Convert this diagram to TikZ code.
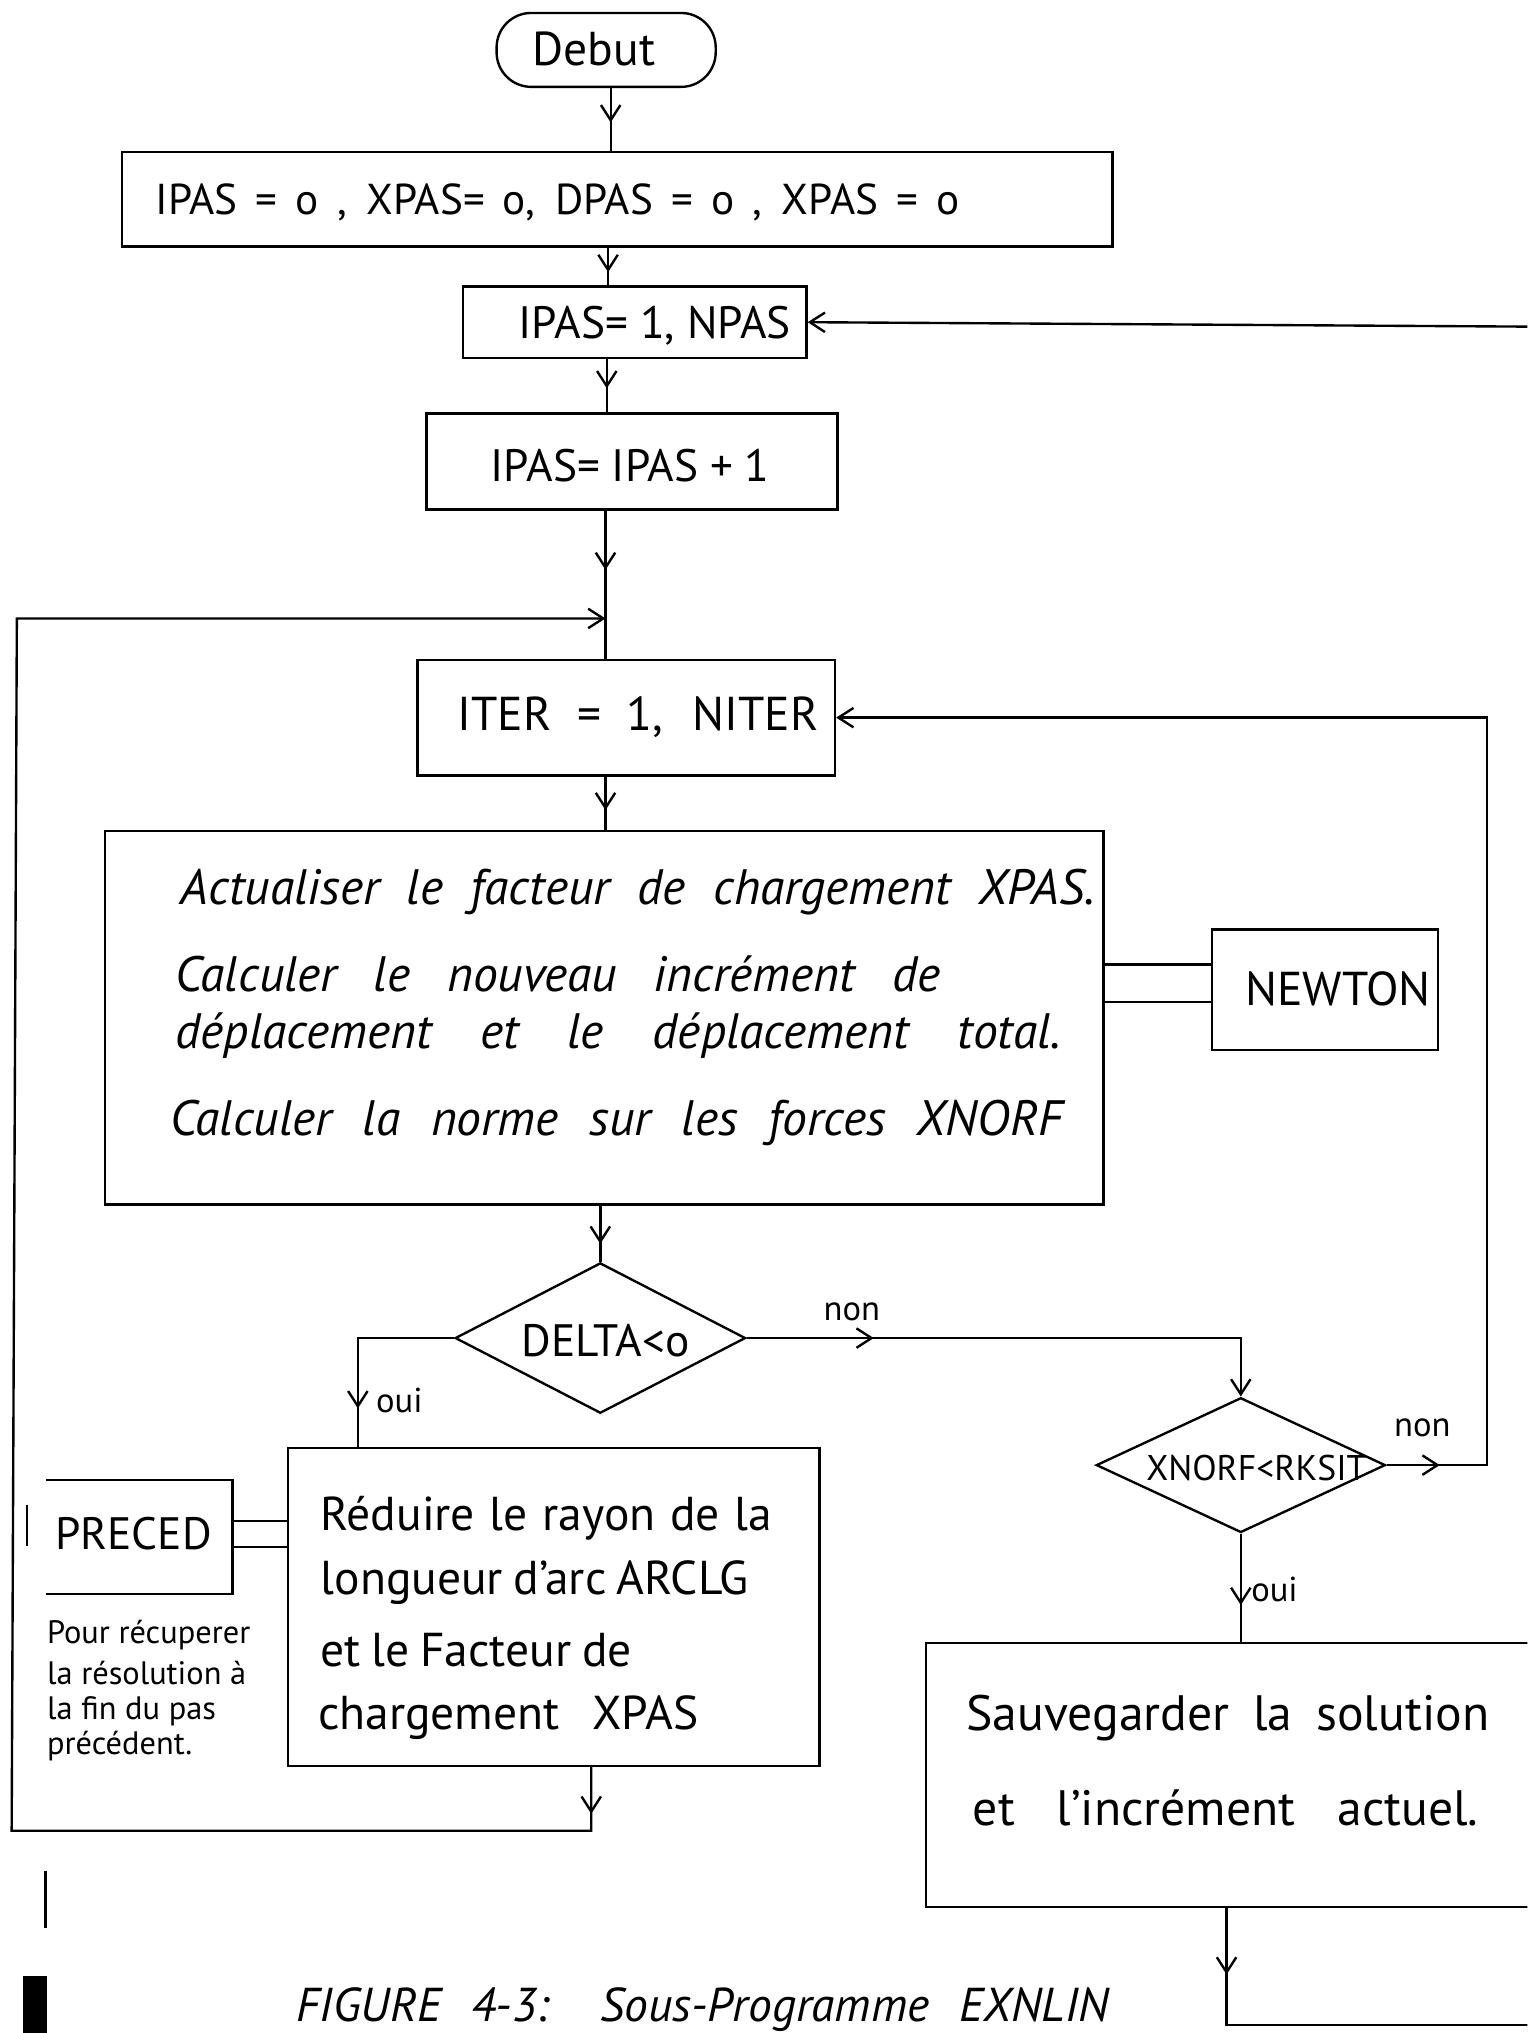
\documentclass[tikz,border=0pt]{standalone}
\usepackage{fontspec}
\setmainfont{PT Sans}
\usetikzlibrary{arrows.meta,shapes.geometric,decorations.markings,fit}

\tikzset{
  frame/.style={draw, inner sep=0pt, line width=1.1pt},
  txt/.style={inner sep=0pt, anchor=center},
  ltxt/.style={inner sep=0pt, anchor=west},
  flow/.style={draw, line width=1.1pt},
  tipend/.style={-{Straight Barb[length=7pt,width=9pt]}},
  vmark/.style={postaction={decorate, decoration={markings,
      mark=at position #1 with {\arrow{Straight Barb[length=7pt,width=9pt]}}}}},
  reg/.style={font=\fontsize{#1}{#1}\selectfont},
  ital/.style={font=\itshape\fontsize{#1}{#1}\selectfont},
}

\begin{document}
\begin{tikzpicture}[x=0.6pt,y=-0.6pt]
\fill[white] (0,0) rectangle (1178,1568);
\useasboundingbox (0,0) rectangle (1178,1568);
\clip (0,0) rectangle (1178,1568);

% column and corner coordinates
\coordinate (c1) at (471,0);
\coordinate (c2) at (469,0);
\coordinate (c3) at (468,0);
\coordinate (c4) at (467,0);
\coordinate (c6) at (946,0);
\coordinate (r1) at (456,0);
\coordinate (r2) at (276,0);
\coordinate (rc) at (1147,0);
\coordinate (join) at (467,477);
\coordinate (loopbot) at (9,1412);
\coordinate (looptop) at (13,477);
\coordinate (topright) at (1190,252);
\coordinate (botright) at (1190,1562);
\coordinate (dl1) at (0,744);
\coordinate (dl2) at (0,773);
\coordinate (dl3) at (0,1173);
\coordinate (dl4) at (0,1193);

% start terminal
\node[frame, rounded corners=16pt, fit={(383,10)(552,67)}] (debut) {};
\node[txt, reg=22] (debutT) at (458,38) {Debut};

% initialisation
\node[frame, fit={(94,117)(858,190)}] (init) {};
\node[txt, reg=20] (initT) at (430,156)
  {\makebox[372pt][s]{IPAS = o , XPAS= o, DPAS = o , XPAS = o}};

% step loop
\node[frame, fit={(357,221)(622,276)}] (npas) {};
\node[txt, reg=21] (npasT) at (505,251) {IPAS= 1, NPAS};

\node[frame, fit={(329,319)(646,393)}] (incr) {};
\node[txt, reg=21] (incrT) at (486,359) {\makebox[129pt][s]{IPAS= IPAS + 1}};

% iteration loop
\node[frame, fit={(322,509)(644,598)}] (iter) {};
\node[txt, reg=22] (iterT) at (492,553) {\makebox[167pt][s]{ITER = 1, NITER}};

% computation block
\node[frame, fit={(81,641)(851,929)}] (calc) {};
\node[ltxt, ital=23] (calc1) at (139,688)
  {\makebox[423pt][s]{Actualiser le facteur de chargement XPAS.}};
\node[ltxt, ital=23] (calc2) at (135,751)
  {\makebox[354pt][s]{Calculer le nouveau incrément de}};
\node[ltxt, ital=23] (calc3) at (135,799)
  {\makebox[410pt][s]{déplacement et le déplacement total.}};
\node[ltxt, ital=23] (calc4) at (131,866)
  {\makebox[413pt][s]{Calculer la norme sur les forces XNORF}};

\node[frame, fit={(935,717)(1109,810)}] (newton) {};
\node[txt, reg=22] (newtonT) at (1032,763) {NEWTON};

% decisions
\node[frame, diamond, minimum width=134.4pt, minimum height=69.6pt] (delta) at (463,1032) {};
\node[txt, reg=21] (deltaT) at (467,1034) {DELTA<o};

\node[frame, diamond, minimum width=133.8pt, minimum height=62.4pt] (xnorf) at (957,1130) {};
\node[txt, reg=16.5] (xnorfT) at (969,1132) {XNORF<RKSIT};

% reduction block
\node[frame, fit={(222,1117)(632,1362)}] (reduce) {};
\node[ltxt, reg=22] (red1) at (247,1171) {\makebox[209pt][s]{Réduire le rayon de la}};
\node[ltxt, reg=22] (red2) at (247,1221) {\makebox[198pt][s]{longueur d'arc ARCLG}};
\node[ltxt, reg=22] (red3) at (247,1273) {\makebox[144pt][s]{et le Facteur de}};
\node[ltxt, reg=22] (red4) at (245,1325) {\makebox[176pt][s]{chargement XPAS}};

% previous-step routine
\node[inner sep=0pt, fit={(36,1142)(179,1229)}] (preced) {};
\draw[line width=1.1pt] (preced.north west) -- (preced.north east)
  -- (preced.south east) -- (preced.south west);
\node[txt, reg=21] (precedT) at (103,1183) {PRECED};
\node[ltxt, reg=15] (note1) at (36,1261) {Pour récuperer};
\node[ltxt, reg=15] (note2) at (36,1290) {la résolution à};
\node[ltxt, reg=15] (note3) at (36,1320) {la fin du pas};
\node[ltxt, reg=15] (note4) at (36,1347) {précédent.};

% save block
\node[frame, fit={(714,1267)(1200,1471)}] (save) {};
\node[ltxt, reg=23] (save1) at (745,1325) {\makebox[242pt][s]{Sauvegarder la solution}};
\node[ltxt, reg=23] (save2) at (750,1394) {\makebox[234pt][s]{et l'incrément actuel.}};

% branch labels
\node[txt, reg=16] (non1) at (657,1012) {non};
\node[txt, reg=16] (non2) at (1097,1101) {non};
\node[txt, reg=16] (oui1) at (308,1080) {oui};
\node[txt, reg=16] (oui2) at (983,1226) {oui};

% caption
\node[txt, ital=22] (caption) at (542,1550)
  {\makebox[376pt][s]{FIGURE 4-3: Sous-Programme EXNLIN}};

% main column
\draw[flow, vmark=0.55] (debut.south -| c1) -- (init.north -| c1);
\draw[flow, vmark=0.65] (init.south -| c2) -- (npas.north -| c2);
\draw[flow, vmark=0.55] (npas.south -| c3) -- (incr.north -| c3);
\draw[flow, vmark=0.4] (incr.south -| c4) -- (iter.north -| c4);
\draw[flow, vmark=0.63] (iter.south -| c4) -- (calc.north -| c4);
\draw[flow, vmark=0.68] (calc.south -| delta.north) -- (delta.north);

% side links
\draw[line width=1.1pt] (calc.east |- dl1) -- (newton.west |- dl1);
\draw[line width=1.1pt] (calc.east |- dl2) -- (newton.west |- dl2);
\draw[line width=1.1pt] (preced.east |- dl3) -- (reduce.west |- dl3);
\draw[line width=1.1pt] (preced.east |- dl4) -- (reduce.west |- dl4);

% branches
\draw[flow, vmark=77pt] (delta.west) -| (reduce.north -| r2);
\draw[flow, tipend, vmark=58.8pt] (delta.east) -| (xnorf.north);
\draw[flow, tipend, vmark=24.6pt] (xnorf.east) -- (xnorf.east -| rc) |- (iter.east);
\draw[flow, vmark=33pt] (xnorf.south) -- (xnorf.south |- save.north);

% loops
\draw[flow, tipend, vmark=21.6pt] (reduce.south -| r1) |- (loopbot) -- (looptop) -- (join);
\draw[flow, vmark=30.6pt] (save.south -| c6) |- (botright);
\draw[flow, tipend] (topright) -- (npas.east);

% marks on the sheet
\draw[line width=1.1pt] (21,1161) -- (21,1192);
\draw[line width=1.1pt] (35,1443) -- (35,1487);
\fill (18,1524) rectangle (36,1568);
\end{tikzpicture}
\end{document}
